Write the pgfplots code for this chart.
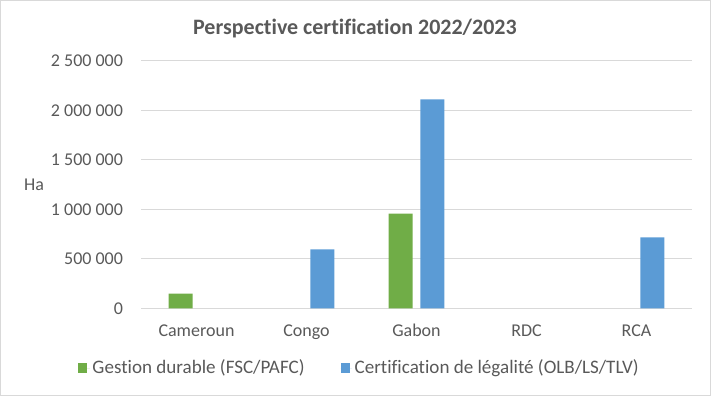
\documentclass[border=0pt]{standalone}
\usepackage{pgfplots}
\pgfplotsset{compat=1.18}
\usepackage{fontspec}
\setmainfont[Ligatures=NoCommon]{Carlito}
\definecolor{txt}{HTML}{595959}
\definecolor{gridc}{HTML}{D9D9D9}
\definecolor{cgreen}{HTML}{70AD47}
\definecolor{cblue}{HTML}{5B9BD5}
\begin{document}
\begin{tikzpicture}
\path[use as bounding box] (-106.125pt,-65.775pt) rectangle (427.125pt,231.225pt);
\draw[gridc, line width=0.75pt] (-105.75pt,-65.4pt) rectangle (426.75pt,230.85pt);
\begin{axis}[
  at={(0pt,0pt)}, anchor=south west,
  scale only axis, width=412.5pt, height=185.5pt,
  ybar=5.8pt, bar width=18pt,
  xmin=-0.5, xmax=4.5, ymin=0, ymax=2500000,
  xtick={0,1,2,3,4},
  xticklabels={Cameroun,Congo,Gabon,RDC,RCA},
  ytick={0,500000,1000000,1500000,2000000,2500000},
  yticklabels={0,500 000,1 000 000,1 500 000,2 000 000,2 500 000},
  scaled y ticks=false,
  major tick length=0pt,
  axis x line*=bottom, axis y line*=left,
  x axis line style={draw=gridc, line width=0.75pt, -},
  y axis line style={draw=none},
  ymajorgrids, major grid style={draw=gridc, line width=0.75pt},
  tick label style={font=\fontsize{13.5}{16}\selectfont, text=txt},
  xticklabel style={anchor=base, inner sep=0pt, yshift=-21.3pt},
  yticklabel style={anchor=east, inner sep=0pt, xshift=-13.7pt},
  legend columns=2,
  legend style={at={(0.3973,-0.2414)}, anchor=center, draw=none, fill=none,
    font=\fontsize{14.3}{17}\selectfont, text=txt, inner sep=0pt,
    /tikz/every even column/.append style={column sep=25pt}},
  legend image code/.code={\fill[#1] (0pt,-3.4pt) rectangle (6.75pt,3.4pt); \path (0pt,0pt) -- (8.5pt,0pt);},
  legend cell align=left,
]
\addplot[fill=cgreen, draw=none] coordinates {(0,149000) (2,956000)};
\addlegendentry{Gestion durable (FSC/PAFC)}
\addplot[fill=cblue, draw=none] coordinates {(1,595000) (2,2112000) (4,717000)};
\addlegendentry{Certification de légalité (OLB/LS/TLV)}
\end{axis}
\node[anchor=base, text=txt, font=\fontsize{16.5}{20}\selectfont\bfseries] at (160.1pt,205.5pt) {Perspective certification 2022/2023};
\node[anchor=base, text=txt, inner sep=0pt, font=\fontsize{13.5}{16}\selectfont] at (-80.6pt,88pt) {Ha};
\end{tikzpicture}
\end{document}
